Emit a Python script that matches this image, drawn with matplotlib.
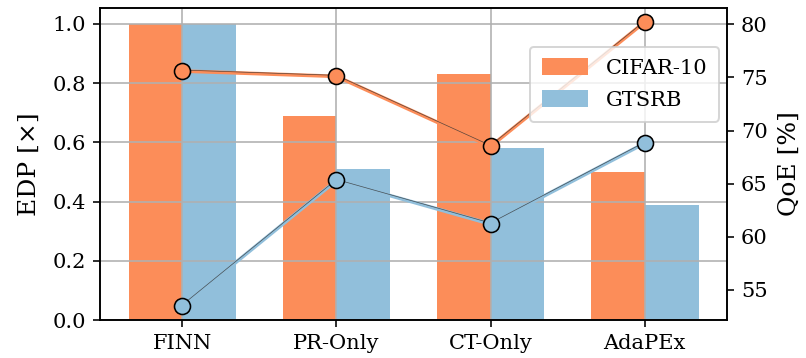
import matplotlib
matplotlib.use("Agg")
import matplotlib.pyplot as plt
import matplotlib.transforms as mtransforms
import numpy as np

plt.rcParams['font.family'] = ['DejaVu Serif']
plt.rcParams['font.size'] = 10

methods = ["FINN", "PR-Only", "CT-Only", "AdaPEx"]
datasets = ["CIFAR-10", "GTSRB"]
edp_cifar = [1.0, 0.69, 0.83, 0.50]
edp_gtsrb = [1.0, 0.51, 0.58, 0.39]
qoe_cifar = [75.6, 75.1, 68.5, 80.2]
qoe_gtsrb = [53.5, 65.3, 61.2, 68.8]

c_cifar = "#fc8d59"
c_gtsrb = "#91bfdb"

DPI = 144
fig = plt.figure(figsize=(806 / DPI, 358 / DPI), dpi=DPI)
ax1 = fig.add_axes([100/806, 1 - 320/358, 627/806, 312/358])

x = np.arange(len(methods))
w = 0.35
b1 = ax1.bar(x - w/2, edp_cifar, w, color=c_cifar, label=datasets[0])
b2 = ax1.bar(x + w/2, edp_gtsrb, w, color=c_gtsrb, label=datasets[1])
ax1.set_xticks(x)
ax1.set_xticklabels(methods, fontsize=10.5)
ax1.tick_params(axis="y", labelsize=10.5)
ax1.set_ylabel("EDP [×]", fontsize=12.5, labelpad=6)
ax1.grid(True)
ax1.set_ylim(0, 1.054)

ax2 = ax1.twinx()
for vals, col in ((qoe_cifar, c_cifar), (qoe_gtsrb, c_gtsrb)):
    ax2.plot(x, vals, color=col, linewidth=1.8, zorder=2)
    shifted = mtransforms.offset_copy(ax2.transData, fig=fig, x=0, y=0.5, units='points')
    ax2.plot(x, vals, color="#333333", linewidth=0.35, alpha=0.8, transform=shifted, zorder=2.1)
    ax2.plot(x, vals, linestyle="none", marker="o", markersize=8,
             markerfacecolor=col, markeredgecolor="black", markeredgewidth=0.8, zorder=3)
ax2.tick_params(axis="y", labelsize=10.5)
ax2.set_ylabel("QoE [%]", fontsize=12.5, labelpad=5)

leg = ax2.legend(handles=[b1, b2], loc="upper right",
                 bbox_to_anchor=(0.987, 0.876), borderaxespad=0,
                 fontsize=10.5, handlelength=2.2, handleheight=0.85,
                 labelspacing=0.6, borderpad=0.55, handletextpad=0.85)

fig.savefig("out.png", dpi=DPI)
